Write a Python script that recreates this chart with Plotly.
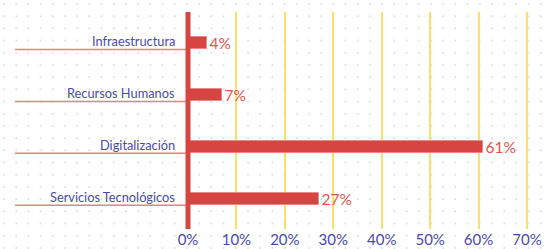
import plotly.graph_objects as go

categories = ["Infraestructura", "Recursos Humanos", "Digitalización", "Servicios Tecnológicos"]
values = [4, 7, 61, 27]
tick_vals = [0, 10, 20, 30, 40, 50, 60, 70]
tick_text = [f"{v}%" for v in tick_vals]

W, H = 545, 249
px_per_pct = 4.843
x0_px = 188
xrange = [-x0_px / px_per_pct, (W - x0_px) / px_per_pct]

BAR = "#d64541"
LABEL_RED = "#e5534b"
NAVY = "#4a4aa8"
FONT = "Lato, 'Open Sans', sans-serif"

fig = go.Figure()
fig.add_trace(go.Bar(
    x=values, y=categories, orientation="h",
    width=0.22,
    marker=dict(color=BAR, line=dict(color="#ea8a86", width=1)),
    text=[f"{v}%" for v in values], textposition="outside",
    constraintext="none",
    textfont=dict(color=LABEL_RED, size=15.5, family=FONT),
    cliponaxis=False, hoverinfo="skip",
))

shapes = []
annotations = []
for i, c in enumerate(categories):
    shapes.append(dict(type="line", xref="x", yref="y",
                       x0=(15 - x0_px) / px_per_pct, x1=0, y0=i + 0.12, y1=i + 0.12,
                       line=dict(color="#f07f7f", width=1.5), layer="above"))
    annotations.append(dict(x=-2.3, y=i - 0.05, xref="x", yref="y", text=c,
                            showarrow=False, xanchor="right", yanchor="middle",
                            font=dict(color=NAVY, size=12.8, family=FONT)))
# thick red axis line
shapes.append(dict(type="line", xref="x", yref="paper", x0=0, x1=0, y0=0, y1=1,
                   line=dict(color=BAR, width=5), layer="above"))

# dotted background pattern
svg = ("data:image/svg+xml;utf8,<svg xmlns='http://www.w3.org/2000/svg' width='545' height='249'>"
       "<defs><pattern id='p' width='12.2' height='12.2' patternUnits='userSpaceOnUse'>"
       "<circle cx='4' cy='4' r='0.9' fill='%23d4d4d4'/></pattern></defs>"
       "<rect width='545' height='249' fill='url(%23p)'/></svg>")
t, b = 12, 20
ph = H - t - b
fig.add_layout_image(dict(source=svg, xref="paper", yref="paper",
                          x=0, y=1 + t / ph, sizex=1, sizey=H / ph,
                          xanchor="left", yanchor="top", sizing="stretch", layer="below"))

fig.update_layout(
    width=W, height=H,
    margin=dict(l=0, r=0, t=t, b=b),
    paper_bgcolor="white", plot_bgcolor="rgba(0,0,0,0)",
    showlegend=False, bargap=0,
    shapes=shapes, annotations=annotations,
    xaxis=dict(range=xrange, tickvals=tick_vals, ticktext=tick_text,
               showgrid=True, gridcolor="#ffe066", gridwidth=2,
               zeroline=False, showline=False, ticks="",
               tickfont=dict(color=NAVY, size=15, family=FONT)),
    yaxis=dict(type="category", categoryarray=categories,
               range=[3.575, -0.6], showticklabels=False, showgrid=False,
               zeroline=False, showline=False, ticks=""),
)
fig.write_html("out.html", config={"displayModeBar": False},
               post_script="document.body.style.margin='0';document.body.style.overflow='hidden';")
